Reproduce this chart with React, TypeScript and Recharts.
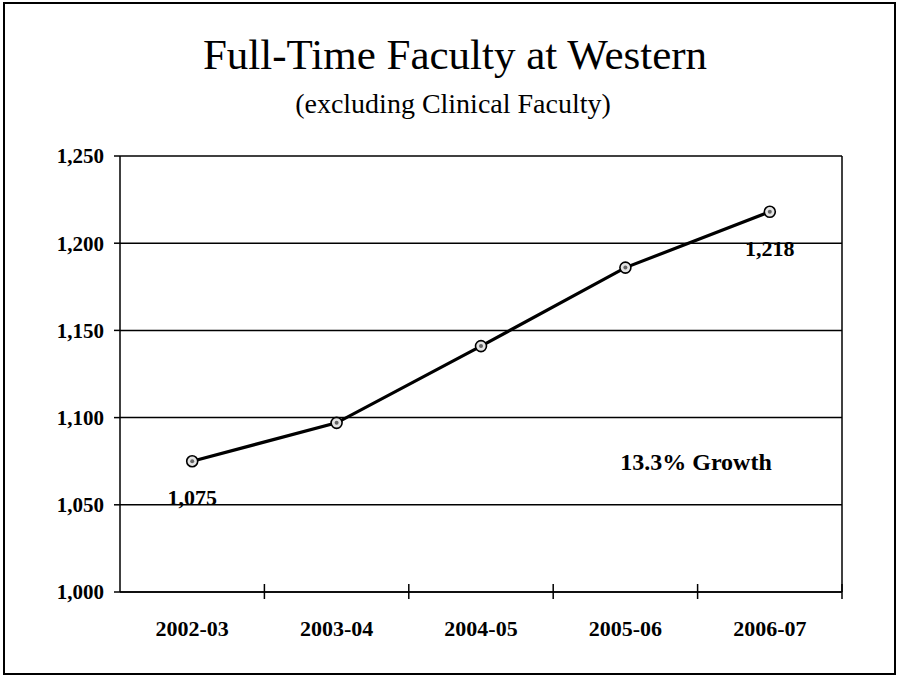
import React from 'react';
import {
  LineChart,
  Line,
  XAxis,
  YAxis,
  CartesianGrid,
  LabelList
} from 'recharts';

// academic years and headcounts
const years = ['2002-03', '2003-04', '2004-05', '2005-06', '2006-07'];
const faculty = [1075, 1097, 1141, 1186, 1218];
const labelled = [true, false, false, false, true];
const yTicks = [1000, 1050, 1100, 1150, 1200, 1250];

const title = 'Full-Time Faculty at Western';
const subtitle = '(excluding Clinical Faculty)';
const note = '13.3% Growth';

const FONT = '"Liberation Serif", "Times New Roman", serif';
const X_TICK_MARGIN = 28;

const data = years.map((year, i) => ({ year, faculty: faculty[i], labelled: labelled[i] }));

const fmt = (v: number) => v.toLocaleString('en-US');

const Dot = (props: any) => {
  const { cx, cy, index } = props;
  return (
    <g key={`dot-${index}`}>
      <circle cx={cx} cy={cy} r={5.5} fill="#e4e4e4" stroke="#000" strokeWidth={1.6} />
      <circle cx={cx} cy={cy} r={2} fill="#666" />
    </g>
  );
};

// year label plus a tick mark on the right edge of its band, crossing the axis
const YearTick = (props: any) => {
  const { x, y, payload } = props;
  const axisY = y - X_TICK_MARGIN;
  const edge = x + (payload?.offset ?? 0);
  return (
    <g>
      <line x1={edge} x2={edge} y1={axisY - 8} y2={axisY + 7} stroke="#000" strokeWidth={1.5} />
      <text
        x={x}
        y={y}
        dy="0.71em"
        textAnchor="middle"
        fontFamily={FONT}
        fontWeight="bold"
        fontSize={22}
        fill="#000"
      >
        {payload.value}
      </text>
    </g>
  );
};

const PointLabel = (props: any) => {
  const { x, y, value, index } = props;
  if (!data[index]?.labelled) return null;
  return (
    <text
      x={x}
      y={y + 44}
      textAnchor="middle"
      fontFamily={FONT}
      fontWeight="bold"
      fontSize={22}
      fill="#000"
    >
      {fmt(value)}
    </text>
  );
};

export default function App() {
  return (
    <div style={{ position: 'absolute', left: 0, top: 0, width: 898, height: 678, background: '#fff' }}>
      <div
        style={{
          position: 'absolute',
          left: 3,
          top: 2,
          width: 893,
          height: 673,
          border: '2px solid #000',
          boxSizing: 'border-box'
        }}
      />
      <LineChart
        width={898}
        height={678}
        data={data}
        margin={{ top: 156, right: 55, bottom: 40, left: 0 }}
      >
        <CartesianGrid vertical={false} stroke="#000" strokeWidth={1.5} />
        <XAxis
          dataKey="year"
          scale="band"
          height={46}
          axisLine={{ stroke: '#000', strokeWidth: 1.5 }}
          tickLine={false}
          tickSize={0}
          tickMargin={X_TICK_MARGIN}
          interval={0}
          tick={YearTick}
        />
        <YAxis
          domain={[1000, 1250]}
          ticks={yTicks}
          width={120}
          tickFormatter={fmt}
          axisLine={{ stroke: '#000', strokeWidth: 1.5 }}
          tickLine={{ stroke: '#000', strokeWidth: 1.5 }}
          tickSize={6}
          tickMargin={10}
          tick={{ fill: '#000', fontFamily: FONT, fontWeight: 'bold', fontSize: 21 }}
        />
        <YAxis
          yAxisId="frame"
          orientation="right"
          domain={[1000, 1250]}
          width={1}
          tick={false}
          tickLine={false}
          axisLine={{ stroke: '#000', strokeWidth: 1.5 }}
        />
        <Line
          dataKey="faculty"
          stroke="#000"
          strokeWidth={3.2}
          dot={Dot}
          activeDot={false}
          isAnimationActive={false}
        >
          <LabelList dataKey="faculty" content={PointLabel} />
        </Line>
      </LineChart>
      <svg
        width={898}
        height={678}
        style={{ position: 'absolute', left: 0, top: 0, pointerEvents: 'none' }}
      >
        <text x={455} y={69} textAnchor="middle" fontFamily={FONT} fontSize={43} fill="#000">
          {title}
        </text>
        <text x={453} y={113} textAnchor="middle" fontFamily={FONT} fontSize={28} fill="#000">
          {subtitle}
        </text>
        <text x={696} y={470} textAnchor="middle" fontFamily={FONT} fontWeight="bold" fontSize={24} fill="#000">
          {note}
        </text>
      </svg>
    </div>
  );
}
